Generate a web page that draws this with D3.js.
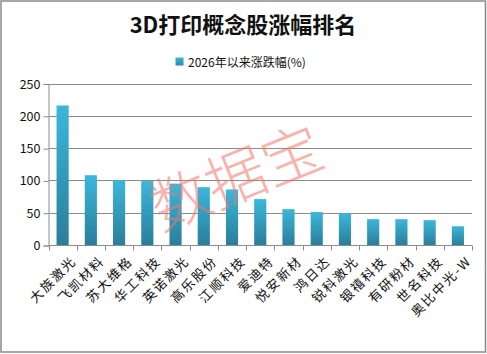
<!DOCTYPE html>
<html><head><meta charset="utf-8">
<script src="https://cdn.jsdelivr.net/npm/d3@7"></script>
<style>body{margin:0;background:#fff}svg{display:block}</style>
</head><body>
<svg id="c" width="487" height="354"></svg>
<script>
const categories = ["大族激光","飞凯材料","苏大维格","华工科技","英诺激光","高乐股份","江顺科技","爱迪特","悦安新材","鸿日达","锐科激光","银禧科技","有研粉材","世名科技","奥比中光-W"];
const values = [216,108,100,99,95,89.5,86,71,55.5,51,49,40,40,38.5,29];
const yTicks = [0,50,100,150,200,250];
const title = "3D打印概念股涨幅排名";
const seriesName = "2026年以来涨跌幅(%)";

const svg = d3.select("#c");
const font = "'Microsoft YaHei','Noto Sans CJK SC',sans-serif";
const defs = svg.append("defs");
const g = defs.append("linearGradient").attr("id","bg").attr("x1",0).attr("y1",0).attr("x2",0).attr("y2",1);
g.append("stop").attr("offset","0%").attr("stop-color","#3bb7dc");
g.append("stop").attr("offset","100%").attr("stop-color","#2a7e99");
const lg = defs.append("linearGradient").attr("id","lg").attr("x1",0).attr("y1",0).attr("x2",0).attr("y2",1);
lg.append("stop").attr("offset","0%").attr("stop-color","#3bb7dc");
lg.append("stop").attr("offset","100%").attr("stop-color","#2a8aa8");

svg.append("rect").attr("x",1).attr("y",1).attr("width",484.5).attr("height",351).attr("fill","#fff").attr("stroke","#8a8a8a").attr("stroke-width",1.5);

const x = d3.scaleBand().domain(categories).range([48.5,472]).paddingInner(0.57).paddingOuter(0.285);
const y = d3.scaleLinear().domain([0,250]).range([245,83.5]);

// gridlines
svg.append("g").selectAll("line").data(yTicks.slice(1)).join("line")
  .attr("x1",48.5).attr("x2",472).attr("y1",d=>Math.round(y(d))+0.5).attr("y2",d=>Math.round(y(d))+0.5)
  .attr("stroke","#8c8c8c").attr("stroke-width",1);

// y axis
const ya = svg.append("g").attr("transform","translate(48.5,0.5)")
  .call(d3.axisLeft(y).tickValues(yTicks).tickSize(5).tickPadding(3));
ya.select(".domain").attr("stroke","#8c8c8c");
ya.selectAll(".tick line").attr("stroke","#8c8c8c");
ya.selectAll("text").attr("font-family",font).attr("font-size",12.5).attr("fill","#111");

// bars
svg.append("g").selectAll("rect").data(values).join("rect")
  .attr("x",(d,i)=>x(categories[i])).attr("width",x.bandwidth())
  .attr("y",d=>y(d)).attr("height",d=>y(0)-y(d)).attr("fill","url(#bg)");

// x axis
const xa = svg.append("g").attr("transform","translate(0,245.5)");
xa.append("line").attr("x1",48.5).attr("x2",472).attr("stroke","#8c8c8c");
xa.selectAll("line.t").data(d3.range(categories.length+1)).join("line").attr("class","t")
  .attr("x1",i=>Math.round(48.5+i*(472-48.5)/categories.length)+0.5)
  .attr("x2",i=>Math.round(48.5+i*(472-48.5)/categories.length)+0.5)
  .attr("y1",0).attr("y2",5).attr("stroke","#8c8c8c");
xa.selectAll("text").data(categories).join("text")
  .attr("transform",d=>`translate(${x(d)+x.bandwidth()/2+8},${10}) rotate(-45)`)
  .attr("text-anchor","end").attr("dy","0.7em").attr("letter-spacing",1.8)
  .attr("font-family",font).attr("font-size",13).attr("fill","#111").text(d=>d);

// title
svg.append("text").attr("x",243).attr("y",33).attr("text-anchor","middle")
  .attr("font-family",font).attr("font-weight","bold").attr("font-size",22).attr("fill","#111").text(title);

// legend
svg.append("rect").attr("x",175.5).attr("y",57.5).attr("width",8).attr("height",8).attr("fill","url(#lg)");
svg.append("text").attr("x",188).attr("y",66.5).attr("font-family",font).attr("font-size",12).attr("fill","#111").text(seriesName);

// watermark
svg.append("text").attr("transform","translate(236,178) rotate(-22)").attr("text-anchor","middle")
  .attr("dy","0.36em").attr("font-family",font).attr("font-weight",300).attr("font-size",60)
  .attr("fill","#f4766b").attr("opacity",0.55).attr("letter-spacing",0).text("数据宝");
</script>
</body></html>
